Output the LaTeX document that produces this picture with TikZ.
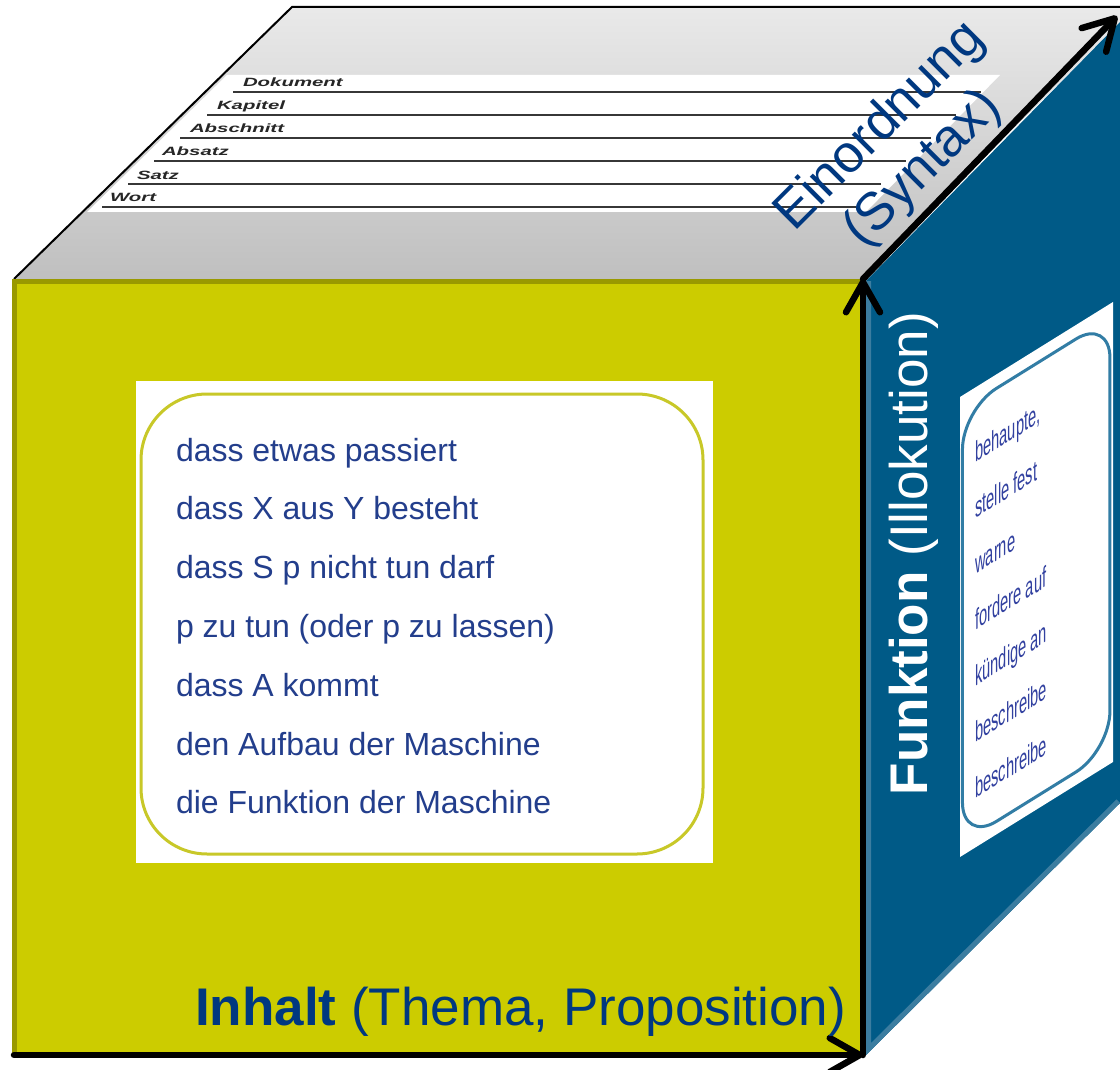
\documentclass[tikz,border=0pt]{standalone}
\usepackage{tikz}
\usetikzlibrary{arrows.meta}
\usepackage{xcolor}
\usepackage{fontspec}
\setmainfont{Liberation Sans}
\definecolor{frontyellow}{RGB}{204,204,0}
\definecolor{frontedge}{RGB}{153,153,0}
\definecolor{innerring}{RGB}{200,200,40}
\definecolor{sideblue}{RGB}{0,90,135}
\definecolor{sideedge}{RGB}{60,125,160}
\definecolor{panelring}{RGB}{50,125,165}
\definecolor{labelblue}{RGB}{0,56,128}
\definecolor{listblue}{RGB}{35,62,140}
\definecolor{panelblue}{RGB}{50,65,160}
\definecolor{topline}{RGB}{55,55,55}

\begin{document}
\begin{tikzpicture}[x=1pt,y=-1pt]
	\tikzstyle{every node}=[inner sep=0pt, outer sep=0pt]
	\tikzstyle{edge arrow}=[line width=6.5pt, line cap=round, line join=round, -{Straight Barb[length=30pt,width=34pt,round]}]
	\tikzstyle{level line}=[topline, line width=1.6pt]
	\tikzstyle{level label}=[font=\fontsize{12}{14}\selectfont\bfseries\itshape, xscale=1.7, anchor=base west, text=black!85]
	\tikzstyle{side title}=[font=\fontsize{53}{60}\selectfont]
	\useasboundingbox (0,0) rectangle (1120,1070);
	\coordinate (ftl) at (14,279);
	\coordinate (fbl) at (14,1055);
	\coordinate (fbr) at (863,1055);
	\coordinate (ftr) at (863,279);
	\coordinate (btl) at (292,7);
	\coordinate (btr) at (1120,7);
	\coordinate (rtr) at (1120,22);
	\coordinate (rbr) at (1120,803);
	\coordinate (rtip) at (1117,16);

	\shade[top color=gray!17, bottom color=gray!50] (ftl) -- (btl) -- (btr) -- (rtr) -- (ftr) -- cycle;
	\fill[white] (227,75) -- (1000,75) -- (866,212) -- (87,212) -- cycle;
	\draw[level line] (233,92.3) -- (981,92.3);
	\draw[level line] (207,115.2) -- (956,115.2);
	\draw[level line] (180,138.1) -- (931,138.1);
	\draw[level line] (154,161) -- (906,161);
	\draw[level line] (128,183.9) -- (881,183.9);
	\draw[level line] (102,206.8) -- (856,206.8);
	\draw (243,87) node[level label] (dok) {Dokument};
	\draw (217,110) node[level label] (kap) {Kapitel};
	\draw (190,133) node[level label] (abs) {Abschnitt};
	\draw (162,156) node[level label] (abz) {Absatz};
	\draw (137,179) node[level label] (satz) {Satz};
	\draw (110,202) node[level label] (wort) {Wort};
	\draw[black, line width=2pt] (ftl) -- (btl) -- (btr);

	\fill[sideblue] (866,281) -- (rtr) -- (rbr) -- (866,1055) -- cycle;
	\begin{scope}
		\clip (866,281) -- (rtr) -- (rbr) -- (866,1055) -- cycle;
		\draw[sideedge, line width=10pt] (866,281) -- (866,1055) -- (rbr);
	\end{scope}
	\begin{scope}[shift={(960,397)}, cm={0.612,0.38,0,1,(0,0)}]
		\fill[white] (0,0) rectangle (250,460);
		\draw[panelring, line width=3pt, rounded corners=40pt] (4,14) rectangle (245,447);
		\draw (25,54) node[transform shape, yscale=1.2, anchor=north west, align=left, text=panelblue, font=\fontsize{24}{46.7}\selectfont] (acts) {behaupte,\\stelle fest\\warne\\fordere auf\\kündige an\\beschreibe\\beschreibe};
	\end{scope}

	\fill[frontyellow] (ftl) rectangle (fbr);
	\draw[frontedge, line width=5pt] (14,1055) -- (14,281.5) -- (863,281.5);
	\fill[white] (136,381) rectangle (713,863);
	\draw[innerring, line width=3pt, rounded corners=66pt] (141,394) rectangle (703,854);
	\draw (176,438) node[anchor=north west, align=left, text=listblue, font=\fontsize{32}{58.8}\selectfont] (topics) {dass etwas passiert\\dass X aus Y besteht\\dass S p nicht tun darf\\p zu tun (oder p zu lassen)\\dass A kommt\\den Aufbau der Maschine\\die Funktion der Maschine};

	\draw[edge arrow] (fbl) -- (fbr);
	\draw[edge arrow] (fbr) -- (ftr);
	\draw[edge arrow] (ftr) -- (rtip);

	\draw (846,1025) node[side title, anchor=base east, text=labelblue] (inhalt) {\textbf{Inhalt} (Thema, Proposition)};
	\draw (927,795) node[side title, rotate=90, anchor=base west, text=white] (funktion) {\textbf{Funktion} (Illokution)};
	\draw (902,148) node[side title, rotate=45, align=center, text=labelblue] (einordnung) {Einordnung\\(Syntax)};
\end{tikzpicture}
\end{document}
